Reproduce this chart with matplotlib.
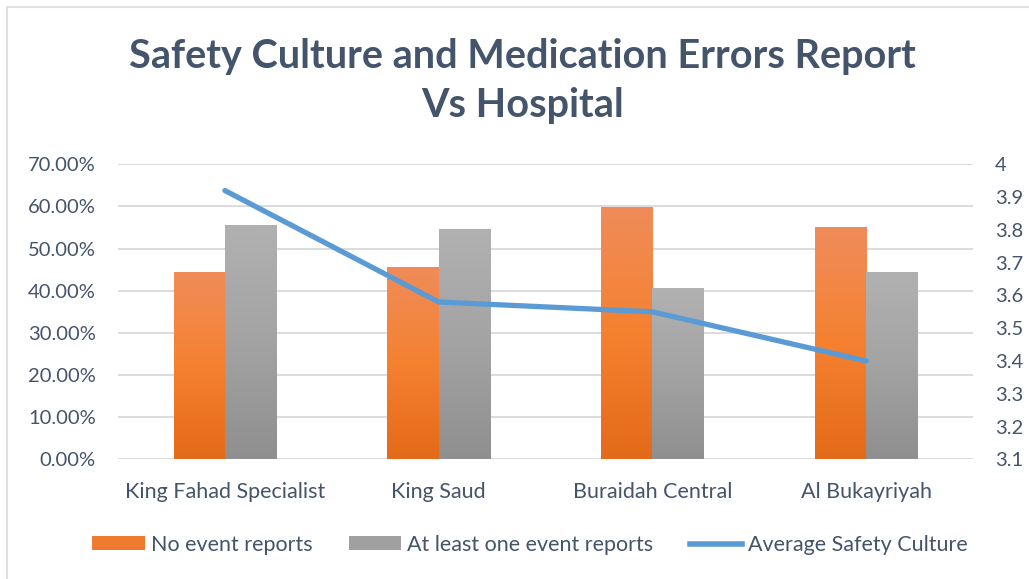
import numpy as np
import matplotlib
matplotlib.use('Agg')
import matplotlib.pyplot as plt
from matplotlib.colors import LinearSegmentedColormap
from matplotlib.patches import Patch
from matplotlib.lines import Line2D
from matplotlib.ticker import FuncFormatter

# Datos
hospitals = ['King Fahad Specialist', 'King Saud', 'Buraidah Central', 'Al Bukayriyah']
no_event = [44.2, 45.4, 59.6, 54.9]
at_least_one = [55.5, 54.4, 40.4, 44.2]
avg_safety = [3.92, 3.58, 3.55, 3.40]

text_col = '#44546A'
plt.rcParams['font.family'] = ['Lato', 'DejaVu Sans']

fig = plt.figure(figsize=(10.29, 5.79), dpi=100)
ax = fig.add_axes([0.1147, 0.2067, 0.8309, 0.5095])

x = np.arange(len(hospitals))
w = 0.24

orange_cm = LinearSegmentedColormap.from_list('o', ['#E36A18', '#F58130', '#F08C5A'])
gray_cm = LinearSegmentedColormap.from_list('g', ['#8F8F8F', '#A3A3A3', '#B1B1B1'])
grad = np.linspace(0, 1, 256).reshape(-1, 1)

# Barras con degradado
b1 = ax.bar(x - w / 2, no_event, w, color='none', zorder=2)
b2 = ax.bar(x + w / 2, at_least_one, w, color='none', zorder=2)
for bars, cm in ((b1, orange_cm), (b2, gray_cm)):
    for r in bars:
        x0, y0 = r.get_x(), r.get_y()
        ax.imshow(grad, extent=[x0, x0 + r.get_width(), y0, y0 + r.get_height()],
                  origin='lower', aspect='auto', cmap=cm, zorder=2)

ax.set_xlim(-0.5, len(hospitals) - 0.5)
ax.set_ylim(0, 70)
ax.set_yticks(np.arange(0, 71, 10))
ax.yaxis.set_major_formatter(FuncFormatter(lambda v, p: f'{v:.2f}%'))
ax.set_xticks(x)
ax.set_xticklabels(hospitals)
ax.grid(axis='y', color='#D9D9D9', linewidth=1.3, zorder=0)
ax.set_axisbelow(True)
for s in ax.spines.values():
    s.set_visible(False)
ax.tick_params(axis='y', length=0, labelsize=14.5, colors=text_col, pad=16)
ax.tick_params(axis='x', length=0, labelsize=15.5, colors=text_col, pad=16)

# Linea en eje secundario
ax2 = ax.twinx()
ax2.plot(x, avg_safety, color='#5B9BD5', linewidth=3.8, solid_capstyle='round', zorder=3)
ax2.set_ylim(3.1, 4.0)
ax2.set_yticks(np.round(np.arange(3.1, 4.01, 0.1), 1))
ax2.yaxis.set_major_formatter(FuncFormatter(lambda v, p: f'{v:g}'))
ax2.tick_params(length=0, labelsize=14.5, colors=text_col, pad=16)
for s in ax2.spines.values():
    s.set_visible(False)

fig.suptitle('Safety Culture and Medication Errors Report\nVs Hospital',
             x=0.508, y=0.935, fontsize=28.5, fontweight='bold', color=text_col,
             linespacing=1.4)

handles = [Patch(facecolor='#F07A30', edgecolor='none'),
           Patch(facecolor='#A0A0A0', edgecolor='none'),
           Line2D([0], [0], color='#5B9BD5', linewidth=4)]
labels = ['No event reports', 'At least one event reports', 'Average Safety Culture']
fig.legend(handles, labels, loc='center', bbox_to_anchor=(0.515, 0.059), ncol=3,
           frameon=False, fontsize=15.5, labelcolor=text_col, handlelength=2.45,
           handleheight=0.6, handletextpad=0.25, columnspacing=1.7)

# Borde del grafico (solo izquierda y arriba visibles)
fig.add_artist(Line2D([0.0065, 0.0065, 1.0], [0.0, 0.988, 0.988], transform=fig.transFigure,
                      color='#DDE1E6', linewidth=1.5))

fig.savefig('out.png', dpi=100)
